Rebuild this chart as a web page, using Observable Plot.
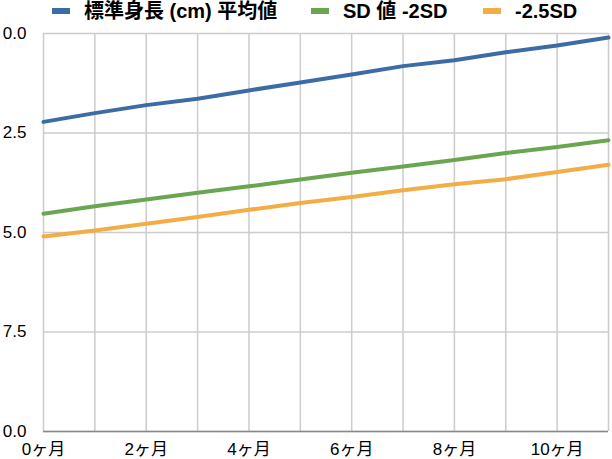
<!DOCTYPE html>
<html>
<head>
<meta charset="utf-8">
<script src="https://cdn.jsdelivr.net/npm/d3@7"></script>
<script src="https://cdn.jsdelivr.net/npm/@observablehq/plot@0.6"></script>
<style>
  html, body { margin: 0; padding: 0; background: #fff; }
  body { width: 612px; height: 459px; overflow: hidden; font-family: "Liberation Sans", "Noto Sans CJK JP", sans-serif; }
  #legend { position: relative; height: 22px; font-size: 20px; font-weight: bold; line-height: 20px; color: #000; }
  #legend .item { position: absolute; top: 0; height: 22px; display: flex; align-items: center; white-space: nowrap; }
  #legend .sw { width: 18px; height: 6px; margin-right: 14px; }
</style>
</head>
<body>
<div id="legend"></div>
<div id="chart"></div>
<script>
const months = [0, 1, 2, 3, 4, 5, 6, 7, 8, 9, 10, 11];
const seriesNames = ["標準身長 (cm) 平均値", "SD 値 -2SD", "-2.5SD"];
const seriesColors = ["#3c6ca6", "#6aa64f", "#f2ad45"];
const meanValues = [2.22, 2.00, 1.80, 1.64, 1.43, 1.23, 1.03, 0.82, 0.67, 0.47, 0.30, 0.10];
const sd2Values  = [4.53, 4.34, 4.17, 4.00, 3.84, 3.67, 3.50, 3.34, 3.18, 3.00, 2.85, 2.68];
const sd25Values = [5.10, 4.95, 4.78, 4.61, 4.43, 4.26, 4.11, 3.94, 3.79, 3.66, 3.48, 3.30];
const yTicks = [0, 2.5, 5, 7.5, 10];
const yTickLabels = ["0.0", "2.5", "5.0", "7.5", "0.0"];
const xLabelTicks = [0, 2, 4, 6, 8, 10];
const xLabelSuffix = "ヶ月";

const allValues = [meanValues, sd2Values, sd25Values];
const data = [];
allValues.forEach((vals, s) => vals.forEach((v, i) => data.push({month: months[i], value: v, series: seriesNames[s]})));

// legend
const legend = document.getElementById("legend");
const legendLeft = [52, 311, 483];
seriesNames.forEach((n, i) => {
  const it = document.createElement("div");
  it.className = "item";
  it.style.left = legendLeft[i] + "px";
  const sw = document.createElement("div");
  sw.className = "sw";
  sw.style.background = seriesColors[i];
  const tx = document.createElement("span");
  tx.textContent = n;
  it.appendChild(sw); it.appendChild(tx);
  legend.appendChild(it);
});

const chart = Plot.plot({
  width: 612,
  height: 437,
  marginTop: 11,
  marginBottom: 28,
  marginLeft: 43,
  marginRight: 4,
  style: {fontSize: "17px", fontFamily: "'Liberation Sans', 'Noto Sans CJK JP', sans-serif", color: "#000", background: "#fff"},
  x: {domain: [0, 11]},
  y: {domain: [0, 10], reverse: true},
  color: {domain: seriesNames, range: seriesColors},
  marks: [
    Plot.gridX(months, {stroke: "#cccccc", strokeOpacity: 1, strokeWidth: 1.5}),
    Plot.gridY(yTicks, {stroke: "#cccccc", strokeOpacity: 1, strokeWidth: 1.5}),
    Plot.ruleY([10], {stroke: "#888888", strokeWidth: 1.5}),
    Plot.axisY(yTicks, {tickSize: 0, tickPadding: 17, tickFormat: (d, i) => yTickLabels[i], label: null, fontSize: 17}),
    Plot.axisX(xLabelTicks, {tickSize: 0, tickPadding: 11, tickFormat: d => `${d}${xLabelSuffix}`, label: null, fontSize: 17}),
    Plot.line(data, {x: "month", y: "value", z: "series", stroke: "series", strokeWidth: 4, curve: "linear"})
  ]
});
document.getElementById("chart").appendChild(chart);
</script>
</body>
</html>
